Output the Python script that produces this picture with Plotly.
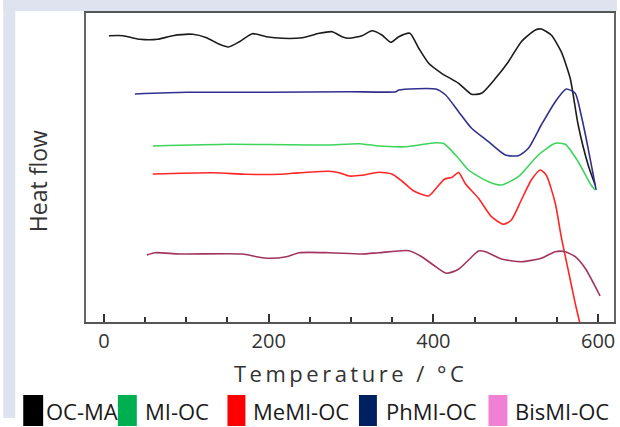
import plotly.graph_objects as go

# ---- data (temperature in °C, heat flow in arbitrary units) ----
oc_ma_t = [6, 23, 43.5, 65.3, 83.5, 107.7, 124.6, 140.3, 151.2, 164.5, 180.2, 197.2, 216.5,
           240.7, 261.3, 277, 289, 297.6, 313.3, 325.4, 337.5, 348.4, 358, 371.4, 382.2,
           394.3, 410, 430.6, 446.4, 458.5, 475.4, 491.1, 506.8, 523.8, 531, 543.1, 555.2,
           566.1, 575.8, 587.9, 596.4]
oc_ma_h = [286.3, 286.3, 282.7, 282.7, 286.3, 287.7, 284.3, 277.7, 275, 280.3, 288.3, 285.3, 283.7,
           284.3, 288.7, 290.3, 285.3, 283.7, 286.3, 291.3, 287, 279.7, 285.3, 288.7, 273.7,
           258.7, 248.7, 238.7, 227.7, 228.7, 243.7, 260.3, 280.3, 292, 293, 287, 270.3,
           243.7, 197, 157, 137]

phmi_t = [37.5, 100.4, 200.8, 297.6, 354.4, 358, 402.8, 414.9, 430.6, 446.4, 466.9, 487.5,
          503.2, 515.3, 531, 548, 561.3, 572.2, 579.4, 587.9, 597.6]
phmi_h = [228, 229.7, 229.7, 230.3, 230.3, 232, 233, 227, 210.3, 193.7, 180.3, 167,
          166.3, 173.7, 197, 220.3, 233, 228.7, 207, 173.7, 132]

mi_t = [59.3, 152.4, 249.2, 273.4, 309.7, 330.2, 366.5, 402.8, 412.5, 427, 442.7, 466.9,
        482.6, 503.2, 527.4, 548, 560.1, 575.8, 591.5, 596.4]
mi_h = [176, 177.7, 177, 177, 178.3, 176.3, 175.3, 179.3, 178.5, 167, 152, 140.3,
        137, 145.3, 167, 178.7, 177.7, 160.3, 137, 132]

memi_t = [59.3, 131.9, 173, 212.9, 228.6, 273.4, 285.5, 297.6, 313.3, 333.9, 349.6, 361.7,
          376.2, 394.3, 401.6, 413.7, 422.2, 430.6, 439.1, 454.8, 470.5, 485.1, 494.7,
          506.8, 518.9, 529.8, 537, 548, 555.2, 563.7, 572.2, 579.4, 582]
memi_h = [148, 149.3, 147.7, 147.7, 148.7, 150.7, 149.3, 146, 146.7, 149.8, 148, 141,
          131, 126, 132, 143, 144.5, 149.5, 138, 123.7, 105.3, 97.7, 102,
          122, 142, 152, 147, 118.7, 85.3, 52, 18.7, -6.3, -14]

bismi_t = [52, 61.7, 91.9, 168.1, 185.1, 200.8, 221.4, 237.1, 273.4, 313.3, 333.9, 370.2,
           385.9, 402.8, 416.1, 430.6, 442.7, 454.8, 463.3, 482.6, 506.8, 531, 548, 560.1,
           572.2, 584.3, 602.4]
bismi_h = [67, 69.3, 68, 68, 65.3, 63.7, 65.3, 69.3, 69.3, 68, 69.3, 71.3,
           65.3, 55.3, 48.7, 52.7, 62, 71, 70.3, 63, 60.3, 63.7, 70.3, 70.3,
           65.3, 53.7, 26]

series_names = ["OC-MA", "PhMI-OC", "MI-OC", "MeMI-OC", "BisMI-OC"]
legend_names = ["OC-MA", "MI-OC", "MeMI-OC", "PhMI-OC", "BisMI-OC"]
x_tick_vals = [0, 200, 400, 600]
x_title = "Temperature / °C"
y_title = "Heat flow"

# ---- styles ----
line_colors = {"OC-MA": "#1c1c1c", "PhMI-OC": "#30318c", "MI-OC": "#3dd45c",
               "MeMI-OC": "#ff2626", "BisMI-OC": "#a3335f"}
legend_colors = {"OC-MA": "#000000", "MI-OC": "#00b050", "MeMI-OC": "#ff0000",
                 "PhMI-OC": "#002060", "BisMI-OC": "#ef80d4"}
series_data = {"OC-MA": (oc_ma_t, oc_ma_h), "PhMI-OC": (phmi_t, phmi_h),
               "MI-OC": (mi_t, mi_h), "MeMI-OC": (memi_t, memi_h),
               "BisMI-OC": (bismi_t, bismi_h)}

W, H = 620, 427
L, R, T, B = 86, 4, 13, 105
PW, PH = W - L - R, H - T - B


def px_x(px):
    return (px - L) / PW


def px_y(py):
    return (H - B - py) / PH


fig = go.Figure()
for name in series_names:
    t, h = series_data[name]
    fig.add_trace(go.Scatter(x=t, y=h, mode="lines", name=name,
                             line=dict(color=line_colors[name], width=1.6,
                                       shape="spline", smoothing=0.6),
                             showlegend=False))

shapes = [
    dict(type="rect", xref="paper", yref="paper", x0=px_x(3), x1=px_x(15),
         y0=px_y(418), y1=px_y(0), fillcolor="#dfe2ef", line=dict(width=0), layer="below"),
    dict(type="rect", xref="paper", yref="paper", x0=px_x(3), x1=px_x(619),
         y0=px_y(11), y1=px_y(0), fillcolor="#dfe2ef", line=dict(width=0), layer="below"),
]
annotations = []
legend_pos = [(23, 43, 44), (118, 137, 143), (228, 246, 252), (360, 378, 385), (490, 509, 515)]
for name, (sx0, sx1, tx) in zip(legend_names, legend_pos):
    shapes.append(dict(type="rect", xref="paper", yref="paper", x0=px_x(sx0), x1=px_x(sx1),
                       y0=px_y(426), y1=px_y(395), fillcolor=legend_colors[name],
                       line=dict(width=0)))
    annotations.append(dict(text=name, xref="paper", yref="paper", x=px_x(tx), y=px_y(411),
                            xanchor="left", yanchor="middle", showarrow=False,
                            font=dict(family="Open Sans", size=22, color="#1a1a1a")))

annotations.append(dict(text=y_title, xref="paper", yref="paper", x=px_x(38), y=px_y(181),
                        textangle=-90, xanchor="center", yanchor="middle", showarrow=False,
                        font=dict(family="Open Sans", size=23, color="#333333")))
annotations.append(dict(text='<span style="letter-spacing:3.5px">' + x_title + '</span>',
                        xref="paper", yref="paper", x=px_x(352), y=px_y(373),
                        xanchor="center", yanchor="middle", showarrow=False,
                        font=dict(family="Open Sans", size=22, color="#333333")))

fig.update_layout(
    width=W, height=H,
    margin=dict(l=L, r=R, t=T, b=B, pad=0),
    paper_bgcolor="white", plot_bgcolor="white",
    showlegend=False,
    shapes=shapes, annotations=annotations,
    xaxis=dict(range=[-21.8, 619.3], showgrid=False, zeroline=False,
               showline=True, linecolor="#555555", linewidth=1.5, mirror=True,
               ticks="inside", ticklen=8, tickwidth=1.5, tickcolor="#333333",
               tickvals=x_tick_vals,
               minor=dict(dtick=50, tick0=0, ticks="inside", ticklen=5, tickwidth=1.5,
                          tickcolor="#333333"),
               tickfont=dict(family="Open Sans", size=20, color="#333333"),
               ticklabelstandoff=0),
    yaxis=dict(range=[0, 309], showgrid=False, zeroline=False, showticklabels=False,
               showline=True, linecolor="#666666", linewidth=1.5, mirror=True, ticks=""),
)

fig.write_html("out.html", config={"displayModeBar": False},
               post_script="document.body.style.margin='0';document.body.style.padding='0';")
